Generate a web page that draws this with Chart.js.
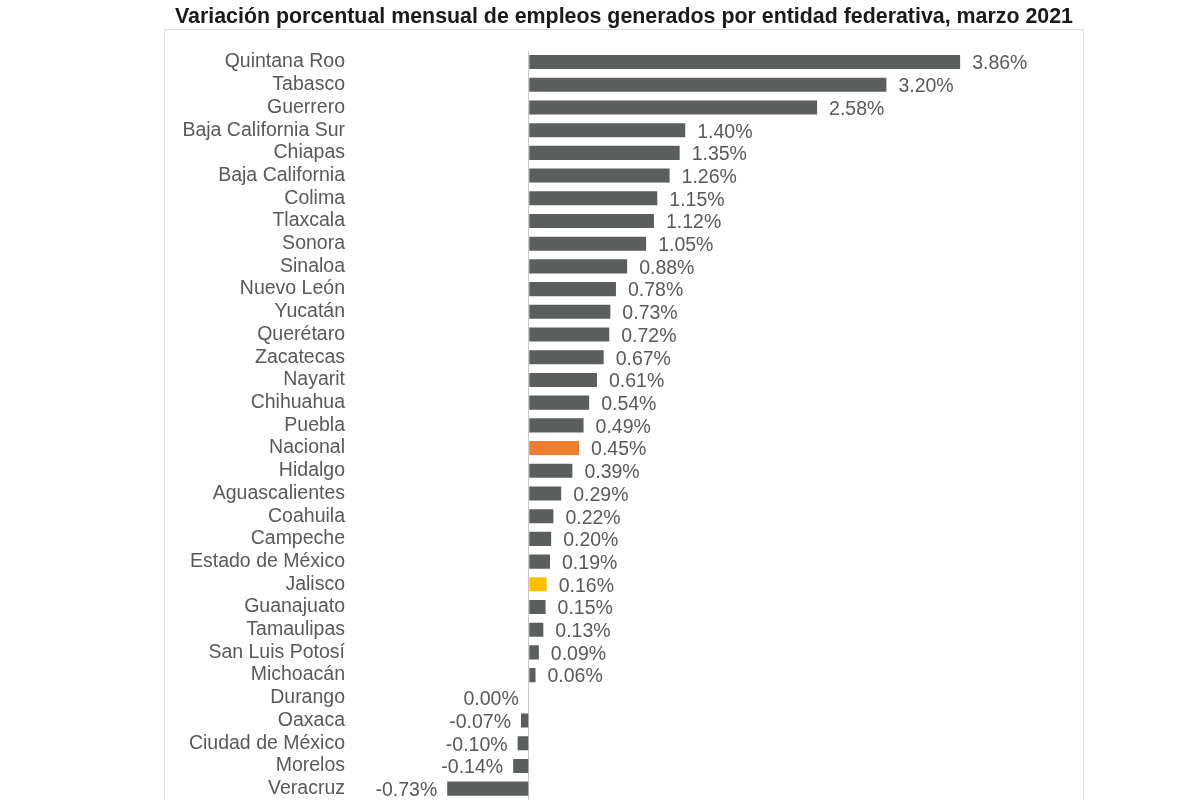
<!DOCTYPE html>
<html>
<head>
<meta charset="utf-8">
<script src="https://cdn.jsdelivr.net/npm/chart.js@4"></script>
<style>
  html, body { margin: 0; padding: 0; background: #fff; }
  #wrap { width: 1200px; height: 800px; }
</style>
</head>
<body>
<div id="wrap"><canvas id="barChart" width="1200" height="800"></canvas></div>
<script>
// Entidades y variación mensual (%)
const states = [
  "Quintana Roo", "Tabasco", "Guerrero", "Baja California Sur", "Chiapas",
  "Baja California", "Colima", "Tlaxcala", "Sonora", "Sinaloa",
  "Nuevo León", "Yucatán", "Querétaro", "Zacatecas", "Nayarit",
  "Chihuahua", "Puebla", "Nacional", "Hidalgo", "Aguascalientes",
  "Coahuila", "Campeche", "Estado de México", "Jalisco", "Guanajuato",
  "Tamaulipas", "San Luis Potosí", "Michoacán", "Durango", "Oaxaca",
  "Ciudad de México", "Morelos", "Veracruz"
];
const variation = [
  3.86, 3.20, 2.58, 1.40, 1.35,
  1.26, 1.15, 1.12, 1.05, 0.88,
  0.78, 0.73, 0.72, 0.67, 0.61,
  0.54, 0.49, 0.45, 0.39, 0.29,
  0.22, 0.20, 0.19, 0.16, 0.15,
  0.13, 0.09, 0.06, 0.00, -0.07,
  -0.10, -0.14, -0.73
];
const highlight = { "Nacional": "#ed7d31", "Jalisco": "#ffc000" };

const GRAY = "#5a5f5e";
const TEXT = "#595959";
const FONT = "'Liberation Sans', Arial, sans-serif";

const barColors = states.map(s => highlight[s] || GRAY);

// light frame around the plot, like the original slide
const framePlugin = {
  id: "frame",
  beforeDraw(chart) {
    const c = chart.ctx;
    c.save();
    c.strokeStyle = "#dcdcdc";
    c.lineWidth = 1;
    c.strokeRect(164.5, 29.5, 919, 800);
    c.restore();
  }
};

// percentage labels next to each bar
const valueLabels = {
  id: "valueLabels",
  afterDatasetsDraw(chart) {
    const c = chart.ctx;
    const meta = chart.getDatasetMeta(0);
    c.save();
    c.font = "19.5px " + FONT;
    c.fillStyle = TEXT;
    c.textBaseline = "middle";
    meta.data.forEach((bar, i) => {
      const v = variation[i];
      const txt = v.toFixed(2) + "%";
      if (v > 0) {
        c.textAlign = "left";
        c.fillText(txt, bar.x + 12, bar.y + 2);
      } else {
        c.textAlign = "right";
        c.fillText(txt, Math.min(bar.x, bar.base) - 10, bar.y + 2);
      }
    });
    c.restore();
  }
};

new Chart(document.getElementById("barChart"), {
  type: "bar",
  data: {
    labels: states,
    datasets: [{
      data: variation,
      backgroundColor: barColors,
      borderWidth: 0,
      barPercentage: 0.62,
      categoryPercentage: 1.0
    }]
  },
  options: {
    indexAxis: "y",
    responsive: false,
    animation: false,
    layout: { padding: { left: 175, right: 127, top: 0, bottom: 0 } },
    plugins: {
      legend: { display: false },
      tooltip: { enabled: false },
      title: {
        display: true,
        text: "Variación porcentual mensual de empleos generados por entidad federativa, marzo 2021",
        color: "#1a1a1a",
        font: { family: FONT, size: 22.5, weight: "bold" },
        padding: { top: 3, bottom: 20.7 }
      }
    },
    scales: {
      x: {
        min: -1.6,
        max: 4.87,
        afterFit(scale) { scale.height = 0; },
        ticks: { display: false, stepSize: 1 },
        border: { display: false },
        grid: {
          drawTicks: false,
          color: ctx => (Math.abs(ctx.tick.value) < 1e-9 ? "#c8c8c8" : "rgba(0,0,0,0)"),
          lineWidth: 1
        }
      },
      y: {
        afterFit(scale) {
          scale.width = 175;
          scale.paddingTop = 0;
          scale.paddingBottom = 0;
        },
        border: { display: false },
        grid: { display: false, drawTicks: false },
        ticks: {
          color: TEXT,
          padding: 5,
          autoSkip: false,
          font: { family: FONT, size: 19.5 }
        }
      }
    }
  },
  plugins: [framePlugin, valueLabels]
});
</script>
</body>
</html>
